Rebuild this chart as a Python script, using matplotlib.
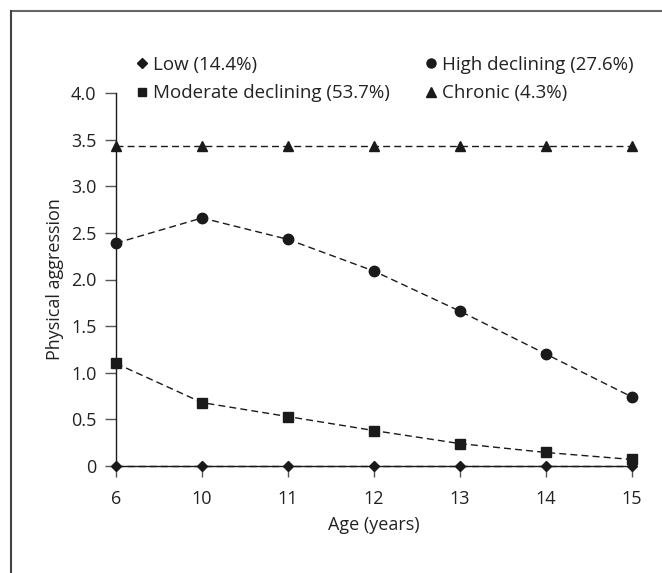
import matplotlib
matplotlib.use("Agg")
import matplotlib.pyplot as plt
from matplotlib.lines import Line2D

ages = ["6", "10", "11", "12", "13", "14", "15"]
low = [0, 0, 0, 0, 0, 0, 0]
moderate = [1.10, 0.68, 0.53, 0.38, 0.24, 0.145, 0.07]
high = [2.39, 2.66, 2.43, 2.09, 1.66, 1.20, 0.74]
chronic = [3.435, 3.435, 3.435, 3.435, 3.435, 3.435, 3.435]
yticks = [0, 0.5, 1.0, 1.5, 2.0, 2.5, 3.0, 3.5, 4.0]
ytick_labels = ["0", "0.5", "1.0", "1.5", "2.0", "2.5", "3.0", "3.5", "4.0"]

plt.rcParams["font.family"] = ["Open Sans", "DejaVu Sans"]
plt.rcParams["font.size"] = 13

fig = plt.figure(figsize=(6.62, 5.73), dpi=100)
ax = fig.add_axes([116 / 662, 1 - 466 / 573, (632 - 116) / 662, (466 - 93) / 573])

x = list(range(len(ages)))
col = "#1a1a1a"
line_kw = dict(color=col, linestyle=(0, (5, 3)), linewidth=1.0, clip_on=False)
ax.plot(x, low, marker="D", markersize=5.5, **line_kw)
ax.plot(x, moderate, marker="s", markersize=7, **line_kw)
ax.plot(x, high, marker="o", markersize=7.5, **line_kw)
ax.plot(x, chronic, marker="^", markersize=7.5, **line_kw)

ax.set_xlim(0, len(ages) - 1)
ax.set_ylim(0, 4.0)
ax.set_xticks(x)
ax.set_xticklabels(ages)
ax.set_yticks(yticks)
ax.set_yticklabels(ytick_labels)
ax.spines["top"].set_visible(False)
ax.spines["right"].set_visible(False)
for s in ["left", "bottom"]:
    ax.spines[s].set_color(col)
    ax.spines[s].set_linewidth(1.0)
ax.tick_params(direction="out", length=8, width=1.0, color="#555555",
               labelcolor="#222222", labelsize=13)
ax.tick_params(axis="x", pad=9)
ax.tick_params(axis="y", pad=6)
ax.set_xlabel("Age (years)", fontsize=13, color="#222222", labelpad=6)
ax.set_ylabel("Physical aggression", fontsize=13, color="#222222", labelpad=5)

mk = lambda m, s: Line2D([], [], color=col, marker=m, markersize=s, linestyle="none")
handles = [mk("D", 5), mk("s", 6), mk("o", 6.5), mk("^", 6.5)]
labels = ["Low (14.4%)", "Moderate declining (53.7%)",
          "High declining (27.6%)", "Chronic (4.3%)"]
fig.legend(handles, labels, ncol=2, loc="upper left",
           bbox_to_anchor=(136 / 662, 1 - 56 / 573), frameon=False, fontsize=13.5,
           borderpad=0, borderaxespad=0,
           handlelength=0.6, handletextpad=0.3, columnspacing=1.9,
           labelspacing=0.55, labelcolor="#222222")

# frame around the figure (top and left edges only visible)
fig.add_artist(Line2D([11 / 662, 1], [1 - 11 / 573, 1 - 11 / 573],
                      transform=fig.transFigure, color="#666666", linewidth=1.5))
fig.add_artist(Line2D([11 / 662, 11 / 662], [1 - 11 / 573, 0],
                      transform=fig.transFigure, color="#444444", linewidth=1.5))

fig.savefig("out.png", dpi=100)
